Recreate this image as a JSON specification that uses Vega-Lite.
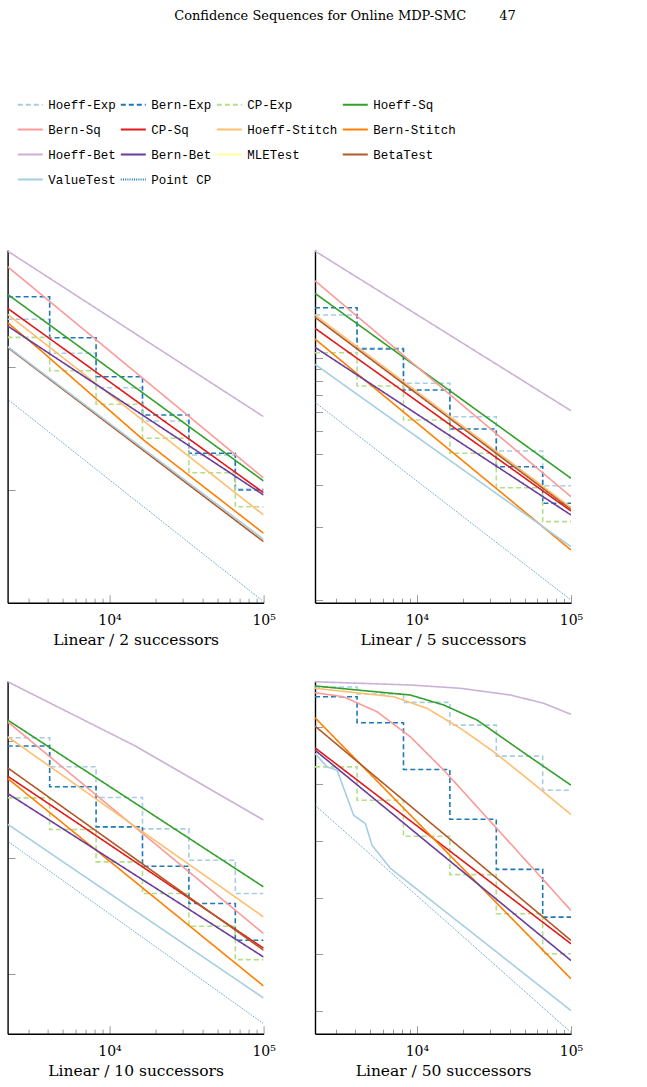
{
  "$schema": "https://vega.github.io/schema/vega-lite/v6.json",
  "padding": {"left": 6.6, "top": 9, "right": 10, "bottom": 5},
  "background": "white",
  "title": {"text": "Confidence Sequences for Online MDP-SMC\u00a0\u00a0\u00a0\u00a0\u00a0\u00a0\u00a0\u00a047", "anchor": "end", "dx": -67, "font": "DejaVu Serif", "fontSize": 13, "fontWeight": "normal", "color": "black", "offset": 68},
  "data": {"values": [
    {"p": "2", "m": "Hoeff-Exp", "n": 2185, "w": 0.1563}, {"p": "2", "m": "Hoeff-Exp", "n": 4096, "w": 0.1137}, {"p": "2", "m": "Hoeff-Exp", "n": 8192, "w": 0.08239}, {"p": "2", "m": "Hoeff-Exp", "n": 16384, "w": 0.06032}, {"p": "2", "m": "Hoeff-Exp", "n": 32768, "w": 0.04388}, {"p": "2", "m": "Hoeff-Exp", "n": 65536, "w": 0.03192}, {"p": "2", "m": "Hoeff-Exp", "n": 100000, "w": 0.03192},
    {"p": "2", "m": "Bern-Exp", "n": 2185, "w": 0.1931}, {"p": "2", "m": "Bern-Exp", "n": 4096, "w": 0.1315}, {"p": "2", "m": "Bern-Exp", "n": 8192, "w": 0.09133}, {"p": "2", "m": "Bern-Exp", "n": 16384, "w": 0.06381}, {"p": "2", "m": "Bern-Exp", "n": 32768, "w": 0.04459}, {"p": "2", "m": "Bern-Exp", "n": 65536, "w": 0.03162}, {"p": "2", "m": "Bern-Exp", "n": 100000, "w": 0.03162},
    {"p": "2", "m": "CP-Exp", "n": 2185, "w": 0.132}, {"p": "2", "m": "CP-Exp", "n": 4096, "w": 0.09661}, {"p": "2", "m": "CP-Exp", "n": 8192, "w": 0.07054}, {"p": "2", "m": "CP-Exp", "n": 16384, "w": 0.05131}, {"p": "2", "m": "CP-Exp", "n": 32768, "w": 0.03718}, {"p": "2", "m": "CP-Exp", "n": 65536, "w": 0.02704}, {"p": "2", "m": "CP-Exp", "n": 100000, "w": 0.02704},
    {"p": "2", "m": "Hoeff-Sq", "n": 2185, "w": 0.1975}, {"p": "2", "m": "Hoeff-Sq", "n": 100000, "w": 0.0344},
    {"p": "2", "m": "Bern-Sq", "n": 2185, "w": 0.2557}, {"p": "2", "m": "Bern-Sq", "n": 100000, "w": 0.03538},
    {"p": "2", "m": "CP-Sq", "n": 2185, "w": 0.1732}, {"p": "2", "m": "CP-Sq", "n": 100000, "w": 0.03083},
    {"p": "2", "m": "Hoeff-Stitch", "n": 2185, "w": 0.1637}, {"p": "2", "m": "Hoeff-Stitch", "n": 100000, "w": 0.02503},
    {"p": "2", "m": "Bern-Stitch", "n": 2185, "w": 0.1514}, {"p": "2", "m": "Bern-Stitch", "n": 3563, "w": 0.1172}, {"p": "2", "m": "Bern-Stitch", "n": 16621, "w": 0.0505}, {"p": "2", "m": "Bern-Stitch", "n": 100000, "w": 0.02109},
    {"p": "2", "m": "Hoeff-Bet", "n": 2185, "w": 0.2961}, {"p": "2", "m": "Hoeff-Bet", "n": 100000, "w": 0.0628},
    {"p": "2", "m": "Bern-Bet", "n": 2185, "w": 0.1468}, {"p": "2", "m": "Bern-Bet", "n": 100000, "w": 0.03018},
    {"p": "2", "m": "BetaTest", "n": 2185, "w": 0.1202}, {"p": "2", "m": "BetaTest", "n": 100000, "w": 0.01949},
    {"p": "2", "m": "ValueTest", "n": 2185, "w": 0.121}, {"p": "2", "m": "ValueTest", "n": 100000, "w": 0.01993},
    {"p": "2", "m": "Point CP", "n": 2185, "w": 0.07389}, {"p": "2", "m": "Point CP", "n": 100000, "w": 0.01112},

    {"p": "5", "m": "Hoeff-Exp", "n": 2185, "w": 0.1505}, {"p": "5", "m": "Hoeff-Exp", "n": 4096, "w": 0.11}, {"p": "5", "m": "Hoeff-Exp", "n": 8192, "w": 0.07862}, {"p": "5", "m": "Hoeff-Exp", "n": 16384, "w": 0.05718}, {"p": "5", "m": "Hoeff-Exp", "n": 32768, "w": 0.04127}, {"p": "5", "m": "Hoeff-Exp", "n": 65536, "w": 0.02967}, {"p": "5", "m": "Hoeff-Exp", "n": 100000, "w": 0.02967},
    {"p": "5", "m": "Bern-Exp", "n": 2185, "w": 0.1614}, {"p": "5", "m": "Bern-Exp", "n": 4096, "w": 0.1089}, {"p": "5", "m": "Bern-Exp", "n": 8192, "w": 0.07375}, {"p": "5", "m": "Bern-Exp", "n": 16384, "w": 0.05088}, {"p": "5", "m": "Bern-Exp", "n": 32768, "w": 0.03554}, {"p": "5", "m": "Bern-Exp", "n": 65536, "w": 0.02509}, {"p": "5", "m": "Bern-Exp", "n": 100000, "w": 0.02509},
    {"p": "5", "m": "CP-Exp", "n": 2185, "w": 0.1052}, {"p": "5", "m": "CP-Exp", "n": 4096, "w": 0.07661}, {"p": "5", "m": "CP-Exp", "n": 8192, "w": 0.05542}, {"p": "5", "m": "CP-Exp", "n": 16384, "w": 0.04038}, {"p": "5", "m": "CP-Exp", "n": 32768, "w": 0.02911}, {"p": "5", "m": "CP-Exp", "n": 65536, "w": 0.02107}, {"p": "5", "m": "CP-Exp", "n": 100000, "w": 0.02107},
    {"p": "5", "m": "Hoeff-Sq", "n": 2185, "w": 0.1851}, {"p": "5", "m": "Hoeff-Sq", "n": 100000, "w": 0.03183},
    {"p": "5", "m": "Bern-Sq", "n": 2185, "w": 0.2086}, {"p": "5", "m": "Bern-Sq", "n": 100000, "w": 0.02672},
    {"p": "5", "m": "CP-Sq", "n": 2185, "w": 0.1327}, {"p": "5", "m": "CP-Sq", "n": 100000, "w": 0.02332},
    {"p": "5", "m": "Hoeff-Stitch", "n": 2185, "w": 0.1505}, {"p": "5", "m": "Hoeff-Stitch", "n": 100000, "w": 0.02411},
    {"p": "5", "m": "Bern-Stitch", "n": 2185, "w": 0.1198}, {"p": "5", "m": "Bern-Stitch", "n": 100000, "w": 0.01609},
    {"p": "5", "m": "Hoeff-Bet", "n": 2185, "w": 0.2768}, {"p": "5", "m": "Hoeff-Bet", "n": 100000, "w": 0.06056},
    {"p": "5", "m": "Bern-Bet", "n": 2185, "w": 0.1107}, {"p": "5", "m": "Bern-Bet", "n": 100000, "w": 0.02245},
    {"p": "5", "m": "BetaTest", "n": 2185, "w": 0.1473}, {"p": "5", "m": "BetaTest", "n": 100000, "w": 0.02366},
    {"p": "5", "m": "ValueTest", "n": 2185, "w": 0.09419}, {"p": "5", "m": "ValueTest", "n": 100000, "w": 0.01661},
    {"p": "5", "m": "Point CP", "n": 2185, "w": 0.0656}, {"p": "5", "m": "Point CP", "n": 100000, "w": 0.01},

    {"p": "10", "m": "Hoeff-Exp", "n": 2185, "w": 0.1033}, {"p": "10", "m": "Hoeff-Exp", "n": 4096, "w": 0.07758}, {"p": "10", "m": "Hoeff-Exp", "n": 8192, "w": 0.05731}, {"p": "10", "m": "Hoeff-Exp", "n": 16384, "w": 0.04203}, {"p": "10", "m": "Hoeff-Exp", "n": 32768, "w": 0.03085}, {"p": "10", "m": "Hoeff-Exp", "n": 65536, "w": 0.0222}, {"p": "10", "m": "Hoeff-Exp", "n": 100000, "w": 0.0222},
    {"p": "10", "m": "Bern-Exp", "n": 2185, "w": 0.09517}, {"p": "10", "m": "Bern-Exp", "n": 4096, "w": 0.06366}, {"p": "10", "m": "Bern-Exp", "n": 8192, "w": 0.04287}, {"p": "10", "m": "Bern-Exp", "n": 16384, "w": 0.02907}, {"p": "10", "m": "Bern-Exp", "n": 32768, "w": 0.02011}, {"p": "10", "m": "Bern-Exp", "n": 65536, "w": 0.01399}, {"p": "10", "m": "Bern-Exp", "n": 100000, "w": 0.01399},
    {"p": "10", "m": "CP-Exp", "n": 2185, "w": 0.05709}, {"p": "10", "m": "CP-Exp", "n": 4096, "w": 0.04178}, {"p": "10", "m": "CP-Exp", "n": 8192, "w": 0.03034}, {"p": "10", "m": "CP-Exp", "n": 16384, "w": 0.0222}, {"p": "10", "m": "CP-Exp", "n": 32768, "w": 0.01607}, {"p": "10", "m": "CP-Exp", "n": 65536, "w": 0.01156}, {"p": "10", "m": "CP-Exp", "n": 100000, "w": 0.01156},
    {"p": "10", "m": "Hoeff-Sq", "n": 2185, "w": 0.1231}, {"p": "10", "m": "Hoeff-Sq", "n": 100000, "w": 0.0237},
    {"p": "10", "m": "Bern-Sq", "n": 2185, "w": 0.121}, {"p": "10", "m": "Bern-Sq", "n": 100000, "w": 0.01495},
    {"p": "10", "m": "CP-Sq", "n": 2185, "w": 0.07076}, {"p": "10", "m": "CP-Sq", "n": 100000, "w": 0.01293},
    {"p": "10", "m": "Hoeff-Stitch", "n": 2185, "w": 0.1044}, {"p": "10", "m": "Hoeff-Stitch", "n": 100000, "w": 0.01762},
    {"p": "10", "m": "Bern-Stitch", "n": 2185, "w": 0.06917}, {"p": "10", "m": "Bern-Stitch", "n": 100000, "w": 0.008908},
    {"p": "10", "m": "Hoeff-Bet", "n": 2185, "w": 0.1797}, {"p": "10", "m": "Hoeff-Bet", "n": 14749, "w": 0.09517}, {"p": "10", "m": "Hoeff-Bet", "n": 100000, "w": 0.04581},
    {"p": "10", "m": "Bern-Bet", "n": 2185, "w": 0.05963}, {"p": "10", "m": "Bern-Bet", "n": 100000, "w": 0.01186},
    {"p": "10", "m": "BetaTest", "n": 2185, "w": 0.07681}, {"p": "10", "m": "BetaTest", "n": 100000, "w": 0.01268},
    {"p": "10", "m": "ValueTest", "n": 2185, "w": 0.04403}, {"p": "10", "m": "ValueTest", "n": 100000, "w": 0.007911},
    {"p": "10", "m": "Point CP", "n": 2185, "w": 0.03722}, {"p": "10", "m": "Point CP", "n": 100000, "w": 0.006143},

    {"p": "50", "m": "Hoeff-Exp", "n": 2185, "w": 0.2202}, {"p": "50", "m": "Hoeff-Exp", "n": 4096, "w": 0.208}, {"p": "50", "m": "Hoeff-Exp", "n": 8192, "w": 0.1944}, {"p": "50", "m": "Hoeff-Exp", "n": 16384, "w": 0.1616}, {"p": "50", "m": "Hoeff-Exp", "n": 32768, "w": 0.1256}, {"p": "50", "m": "Hoeff-Exp", "n": 65536, "w": 0.09524}, {"p": "50", "m": "Hoeff-Exp", "n": 100000, "w": 0.09524},
    {"p": "50", "m": "Bern-Exp", "n": 2185, "w": 0.2034}, {"p": "50", "m": "Bern-Exp", "n": 4096, "w": 0.1647}, {"p": "50", "m": "Bern-Exp", "n": 8192, "w": 0.1127}, {"p": "50", "m": "Bern-Exp", "n": 16384, "w": 0.07521}, {"p": "50", "m": "Bern-Exp", "n": 32768, "w": 0.05007}, {"p": "50", "m": "Bern-Exp", "n": 65536, "w": 0.03397}, {"p": "50", "m": "Bern-Exp", "n": 100000, "w": 0.03397},
    {"p": "50", "m": "CP-Exp", "n": 2185, "w": 0.1151}, {"p": "50", "m": "CP-Exp", "n": 4096, "w": 0.08779}, {"p": "50", "m": "CP-Exp", "n": 8192, "w": 0.0655}, {"p": "50", "m": "CP-Exp", "n": 16384, "w": 0.04796}, {"p": "50", "m": "CP-Exp", "n": 32768, "w": 0.03493}, {"p": "50", "m": "CP-Exp", "n": 65536, "w": 0.02522}, {"p": "50", "m": "CP-Exp", "n": 100000, "w": 0.02522},
    {"p": "50", "m": "Hoeff-Sq", "n": 2185, "w": 0.222}, {"p": "50", "m": "Hoeff-Sq", "n": 9085, "w": 0.2063}, {"p": "50", "m": "Hoeff-Sq", "n": 14950, "w": 0.1902}, {"p": "50", "m": "Hoeff-Sq", "n": 24630, "w": 0.1683}, {"p": "50", "m": "Hoeff-Sq", "n": 31567, "w": 0.1531}, {"p": "50", "m": "Hoeff-Sq", "n": 52020, "w": 0.1266}, {"p": "50", "m": "Hoeff-Sq", "n": 100000, "w": 0.0992},
    {"p": "50", "m": "Bern-Sq", "n": 2185, "w": 0.2102}, {"p": "50", "m": "Bern-Sq", "n": 3352, "w": 0.2034}, {"p": "50", "m": "Bern-Sq", "n": 5523, "w": 0.1801}, {"p": "50", "m": "Bern-Sq", "n": 9085, "w": 0.1469}, {"p": "50", "m": "Bern-Sq", "n": 14950, "w": 0.1121}, {"p": "50", "m": "Bern-Sq", "n": 24630, "w": 0.08314}, {"p": "50", "m": "Bern-Sq", "n": 40515, "w": 0.06173}, {"p": "50", "m": "Bern-Sq", "n": 100000, "w": 0.03587},
    {"p": "50", "m": "CP-Sq", "n": 2185, "w": 0.1344}, {"p": "50", "m": "CP-Sq", "n": 100000, "w": 0.02736},
    {"p": "50", "m": "Hoeff-Stitch", "n": 2185, "w": 0.2179}, {"p": "50", "m": "Hoeff-Stitch", "n": 7077, "w": 0.2034}, {"p": "50", "m": "Hoeff-Stitch", "n": 11663, "w": 0.1851}, {"p": "50", "m": "Hoeff-Stitch", "n": 19187, "w": 0.1573}, {"p": "50", "m": "Hoeff-Stitch", "n": 31567, "w": 0.1301}, {"p": "50", "m": "Hoeff-Stitch", "n": 52020, "w": 0.1047}, {"p": "50", "m": "Hoeff-Stitch", "n": 100000, "w": 0.07814},
    {"p": "50", "m": "Bern-Stitch", "n": 2185, "w": 0.1715}, {"p": "50", "m": "Bern-Stitch", "n": 100000, "w": 0.02058},
    {"p": "50", "m": "Hoeff-Bet", "n": 2185, "w": 0.2298}, {"p": "50", "m": "Hoeff-Bet", "n": 9085, "w": 0.2238}, {"p": "50", "m": "Hoeff-Bet", "n": 19187, "w": 0.2179}, {"p": "50", "m": "Hoeff-Bet", "n": 40515, "w": 0.2063}, {"p": "50", "m": "Hoeff-Bet", "n": 66650, "w": 0.1928}, {"p": "50", "m": "Hoeff-Bet", "n": 100000, "w": 0.1763},
    {"p": "50", "m": "Bern-Bet", "n": 2185, "w": 0.1318}, {"p": "50", "m": "Bern-Bet", "n": 100000, "w": 0.02388},
    {"p": "50", "m": "BetaTest", "n": 2185, "w": 0.1603}, {"p": "50", "m": "BetaTest", "n": 100000, "w": 0.02811},
    {"p": "50", "m": "ValueTest", "n": 2185, "w": 0.1284}, {"p": "50", "m": "ValueTest", "n": 2615, "w": 0.1151}, {"p": "50", "m": "ValueTest", "n": 3037, "w": 0.1121}, {"p": "50", "m": "ValueTest", "n": 3892, "w": 0.07772}, {"p": "50", "m": "ValueTest", "n": 4636, "w": 0.07263}, {"p": "50", "m": "ValueTest", "n": 5123, "w": 0.06087}, {"p": "50", "m": "ValueTest", "n": 6738, "w": 0.05049}, {"p": "50", "m": "ValueTest", "n": 100000, "w": 0.0159},
    {"p": "50", "m": "Point CP", "n": 2185, "w": 0.08431}, {"p": "50", "m": "Point CP", "n": 100000, "w": 0.01332}
  ]},
  "columns": 2,
  "bounds": "flush",
  "spacing": {"row": 78, "column": 51.4},
  "resolve": {"scale": {"color": "shared", "strokeDash": "shared"}},
  "concat": [
    {
      "width": 256, "height": 352.7,
      "transform": [{"filter": "datum.p == '2'"}],
      "encoding": {
        "x": {"field": "n", "type": "quantitative", "scale": {"type": "log", "domain": [2185, 100000], "nice": false},
          "axis": {"title": "Linear / 2 successors", "values": [3000, 4000, 5000, 6000, 7000, 8000, 9000, 10000, 20000, 30000, 40000, 50000, 60000, 70000, 80000, 90000, 100000],
            "labelExpr": "datum.value == 10000 ? '10\u2074' : (datum.value == 100000 ? '10\u2075' : '')",
            "tickSize": {"condition": {"test": "datum.value == 10000 || datum.value == 100000", "value": -8}, "value": -4.5}}},
        "y": {"field": "w", "type": "quantitative", "scale": {"type": "log", "domain": [0.01101, 0.299], "nice": false}, "axis": {"values": [0.1, 0.0316228]}},
        "color": {"field": "m", "type": "nominal", "scale": {"domain": ["Hoeff-Exp", "Bern-Exp", "CP-Exp", "Hoeff-Sq", "Bern-Sq", "CP-Sq", "Hoeff-Stitch", "Bern-Stitch", "Hoeff-Bet", "Bern-Bet", "MLETest", "BetaTest", "ValueTest", "Point CP"], "range": ["#a6cee3", "#1f78b4", "#b2df8a", "#33a02c", "#fb9a99", "#e31a1c", "#fdbf6f", "#ff7f00", "#cab2d6", "#6a3d9a", "#ffff99", "#b15928", "#a6cee3", "#1f78b4"]}, "legend": {"title": null, "orient": "none", "direction": "horizontal", "legendX": 8.7, "legendY": -159.5}},
        "strokeDash": {"field": "m", "type": "nominal", "scale": {"domain": ["Hoeff-Exp", "Bern-Exp", "CP-Exp", "Hoeff-Sq", "Bern-Sq", "CP-Sq", "Hoeff-Stitch", "Bern-Stitch", "Hoeff-Bet", "Bern-Bet", "MLETest", "BetaTest", "ValueTest", "Point CP"], "range": [[5, 3], [5, 3], [5, 3], [1, 0], [1, 0], [1, 0], [1, 0], [1, 0], [1, 0], [1, 0], [1, 0], [1, 0], [1, 0], [1, 1.2]]}, "legend": {"title": null, "orient": "none", "direction": "horizontal", "legendX": 8.7, "legendY": -159.5}}
      },
      "layer": [
        {"transform": [{"filter": "indexof(datum.m, '-Exp') >= 0"}], "mark": {"type": "line", "interpolate": "step-after", "strokeWidth": 1.6, "clip": true}},
        {"transform": [{"filter": "indexof(datum.m, '-Exp') < 0 && datum.m != 'Point CP'"}], "mark": {"type": "line", "strokeWidth": 1.6, "clip": true}},
        {"transform": [{"filter": "datum.m == 'Point CP'"}], "mark": {"type": "line", "strokeWidth": 0.8, "clip": true}}
      ]
    },
    {
      "width": 256, "height": 352.7,
      "transform": [{"filter": "datum.p == '5'"}],
      "encoding": {
        "x": {"field": "n", "type": "quantitative", "scale": {"type": "log", "domain": [2185, 100000], "nice": false},
          "axis": {"title": "Linear / 5 successors", "values": [3000, 4000, 5000, 6000, 7000, 8000, 9000, 10000, 20000, 30000, 40000, 50000, 60000, 70000, 80000, 90000, 100000],
            "labelExpr": "datum.value == 10000 ? '10\u2074' : (datum.value == 100000 ? '10\u2075' : '')",
            "tickSize": {"condition": {"test": "datum.value == 10000 || datum.value == 100000", "value": -8}, "value": -4.5}}},
        "y": {"field": "w", "type": "quantitative", "scale": {"type": "log", "domain": [0.009745, 0.2795], "nice": false}, "axis": {"values": [0.01, 0.02, 0.03, 0.04, 0.05, 0.06, 0.07, 0.08, 0.09, 0.1]}},
        "color": {"field": "m", "type": "nominal", "scale": {"domain": ["Hoeff-Exp", "Bern-Exp", "CP-Exp", "Hoeff-Sq", "Bern-Sq", "CP-Sq", "Hoeff-Stitch", "Bern-Stitch", "Hoeff-Bet", "Bern-Bet", "MLETest", "BetaTest", "ValueTest", "Point CP"], "range": ["#a6cee3", "#1f78b4", "#b2df8a", "#33a02c", "#fb9a99", "#e31a1c", "#fdbf6f", "#ff7f00", "#cab2d6", "#6a3d9a", "#ffff99", "#b15928", "#a6cee3", "#1f78b4"]}, "legend": {"title": null, "orient": "none", "direction": "horizontal", "legendX": 8.7, "legendY": -159.5}},
        "strokeDash": {"field": "m", "type": "nominal", "scale": {"domain": ["Hoeff-Exp", "Bern-Exp", "CP-Exp", "Hoeff-Sq", "Bern-Sq", "CP-Sq", "Hoeff-Stitch", "Bern-Stitch", "Hoeff-Bet", "Bern-Bet", "MLETest", "BetaTest", "ValueTest", "Point CP"], "range": [[5, 3], [5, 3], [5, 3], [1, 0], [1, 0], [1, 0], [1, 0], [1, 0], [1, 0], [1, 0], [1, 0], [1, 0], [1, 0], [1, 1.2]]}, "legend": {"title": null, "orient": "none", "direction": "horizontal", "legendX": 8.7, "legendY": -159.5}}
      },
      "layer": [
        {"transform": [{"filter": "indexof(datum.m, '-Exp') >= 0"}], "mark": {"type": "line", "interpolate": "step-after", "strokeWidth": 1.6, "clip": true}},
        {"transform": [{"filter": "indexof(datum.m, '-Exp') < 0 && datum.m != 'Point CP'"}], "mark": {"type": "line", "strokeWidth": 1.6, "clip": true}},
        {"transform": [{"filter": "datum.m == 'Point CP'"}], "mark": {"type": "line", "strokeWidth": 0.8, "clip": true}}
      ]
    },
    {
      "width": 256, "height": 352.7,
      "transform": [{"filter": "datum.p == '10'"}],
      "encoding": {
        "x": {"field": "n", "type": "quantitative", "scale": {"type": "log", "domain": [2185, 100000], "nice": false},
          "axis": {"title": "Linear / 10 successors", "values": [3000, 4000, 5000, 6000, 7000, 8000, 9000, 10000, 20000, 30000, 40000, 50000, 60000, 70000, 80000, 90000, 100000],
            "labelExpr": "datum.value == 10000 ? '10\u2074' : (datum.value == 100000 ? '10\u2075' : '')",
            "tickSize": {"condition": {"test": "datum.value == 10000 || datum.value == 100000", "value": -8}, "value": -4.5}}},
        "y": {"field": "w", "type": "quantitative", "scale": {"type": "log", "domain": [0.005565, 0.1809], "nice": false}, "axis": {"values": [0.1, 0.0316228, 0.01]}},
        "color": {"field": "m", "type": "nominal", "scale": {"domain": ["Hoeff-Exp", "Bern-Exp", "CP-Exp", "Hoeff-Sq", "Bern-Sq", "CP-Sq", "Hoeff-Stitch", "Bern-Stitch", "Hoeff-Bet", "Bern-Bet", "MLETest", "BetaTest", "ValueTest", "Point CP"], "range": ["#a6cee3", "#1f78b4", "#b2df8a", "#33a02c", "#fb9a99", "#e31a1c", "#fdbf6f", "#ff7f00", "#cab2d6", "#6a3d9a", "#ffff99", "#b15928", "#a6cee3", "#1f78b4"]}, "legend": {"title": null, "orient": "none", "direction": "horizontal", "legendX": 8.7, "legendY": -159.5}},
        "strokeDash": {"field": "m", "type": "nominal", "scale": {"domain": ["Hoeff-Exp", "Bern-Exp", "CP-Exp", "Hoeff-Sq", "Bern-Sq", "CP-Sq", "Hoeff-Stitch", "Bern-Stitch", "Hoeff-Bet", "Bern-Bet", "MLETest", "BetaTest", "ValueTest", "Point CP"], "range": [[5, 3], [5, 3], [5, 3], [1, 0], [1, 0], [1, 0], [1, 0], [1, 0], [1, 0], [1, 0], [1, 0], [1, 0], [1, 0], [1, 1.2]]}, "legend": {"title": null, "orient": "none", "direction": "horizontal", "legendX": 8.7, "legendY": -159.5}}
      },
      "layer": [
        {"transform": [{"filter": "indexof(datum.m, '-Exp') >= 0"}], "mark": {"type": "line", "interpolate": "step-after", "strokeWidth": 1.6, "clip": true}},
        {"transform": [{"filter": "indexof(datum.m, '-Exp') < 0 && datum.m != 'Point CP'"}], "mark": {"type": "line", "strokeWidth": 1.6, "clip": true}},
        {"transform": [{"filter": "datum.m == 'Point CP'"}], "mark": {"type": "line", "strokeWidth": 0.8, "clip": true}}
      ]
    },
    {
      "width": 256, "height": 352.7,
      "transform": [{"filter": "datum.p == '50'"}],
      "encoding": {
        "x": {"field": "n", "type": "quantitative", "scale": {"type": "log", "domain": [2185, 100000], "nice": false},
          "axis": {"title": "Linear / 50 successors", "values": [3000, 4000, 5000, 6000, 7000, 8000, 9000, 10000, 20000, 30000, 40000, 50000, 60000, 70000, 80000, 90000, 100000],
            "labelExpr": "datum.value == 10000 ? '10\u2074' : (datum.value == 100000 ? '10\u2075' : '')",
            "tickSize": {"condition": {"test": "datum.value == 10000 || datum.value == 100000", "value": -8}, "value": -4.5}}},
        "y": {"field": "w", "type": "quantitative", "scale": {"type": "log", "domain": [0.01318, 0.2312], "nice": false}, "axis": {"values": [0.158489, 0.1, 0.0630957, 0.0398107, 0.0251189, 0.0158489]}},
        "color": {"field": "m", "type": "nominal", "scale": {"domain": ["Hoeff-Exp", "Bern-Exp", "CP-Exp", "Hoeff-Sq", "Bern-Sq", "CP-Sq", "Hoeff-Stitch", "Bern-Stitch", "Hoeff-Bet", "Bern-Bet", "MLETest", "BetaTest", "ValueTest", "Point CP"], "range": ["#a6cee3", "#1f78b4", "#b2df8a", "#33a02c", "#fb9a99", "#e31a1c", "#fdbf6f", "#ff7f00", "#cab2d6", "#6a3d9a", "#ffff99", "#b15928", "#a6cee3", "#1f78b4"]}, "legend": {"title": null, "orient": "none", "direction": "horizontal", "legendX": 8.7, "legendY": -159.5}},
        "strokeDash": {"field": "m", "type": "nominal", "scale": {"domain": ["Hoeff-Exp", "Bern-Exp", "CP-Exp", "Hoeff-Sq", "Bern-Sq", "CP-Sq", "Hoeff-Stitch", "Bern-Stitch", "Hoeff-Bet", "Bern-Bet", "MLETest", "BetaTest", "ValueTest", "Point CP"], "range": [[5, 3], [5, 3], [5, 3], [1, 0], [1, 0], [1, 0], [1, 0], [1, 0], [1, 0], [1, 0], [1, 0], [1, 0], [1, 0], [1, 1.2]]}, "legend": {"title": null, "orient": "none", "direction": "horizontal", "legendX": 8.7, "legendY": -159.5}}
      },
      "layer": [
        {"transform": [{"filter": "indexof(datum.m, '-Exp') >= 0"}], "mark": {"type": "line", "interpolate": "step-after", "strokeWidth": 1.6, "clip": true}},
        {"transform": [{"filter": "indexof(datum.m, '-Exp') < 0 && datum.m != 'Point CP'"}], "mark": {"type": "line", "strokeWidth": 1.6, "clip": true}},
        {"transform": [{"filter": "datum.m == 'Point CP'"}], "mark": {"type": "line", "strokeWidth": 0.8, "clip": true}}
      ]
    }
  ],
  "config": {
    "view": {"stroke": null},
    "axis": {"grid": false, "domainColor": "black", "domainWidth": 1.4, "tickColor": "#9a9a9a", "tickWidth": 1, "labelFont": "DejaVu Serif", "labelFontSize": 14, "labelColor": "black", "titleFont": "DejaVu Serif", "titleFontSize": 15.5, "titleFontWeight": "normal", "titleColor": "black", "labelOverlap": false, "labelFlush": false, "labelBound": false},
    "axisX": {"labelPadding": 19, "titlePadding": 1},
    "axisY": {"labels": false, "tickSize": -7.5, "title": null},
    "legend": {"columns": 4, "symbolType": "stroke", "symbolSize": 625, "symbolStrokeWidth": 2.2, "labelFont": "Liberation Mono", "labelFontSize": 12.5, "labelColor": "black", "rowPadding": 4, "columnPadding": 0, "labelOffset": 4, "padding": 0, "labelLimit": 0}
  }
}
